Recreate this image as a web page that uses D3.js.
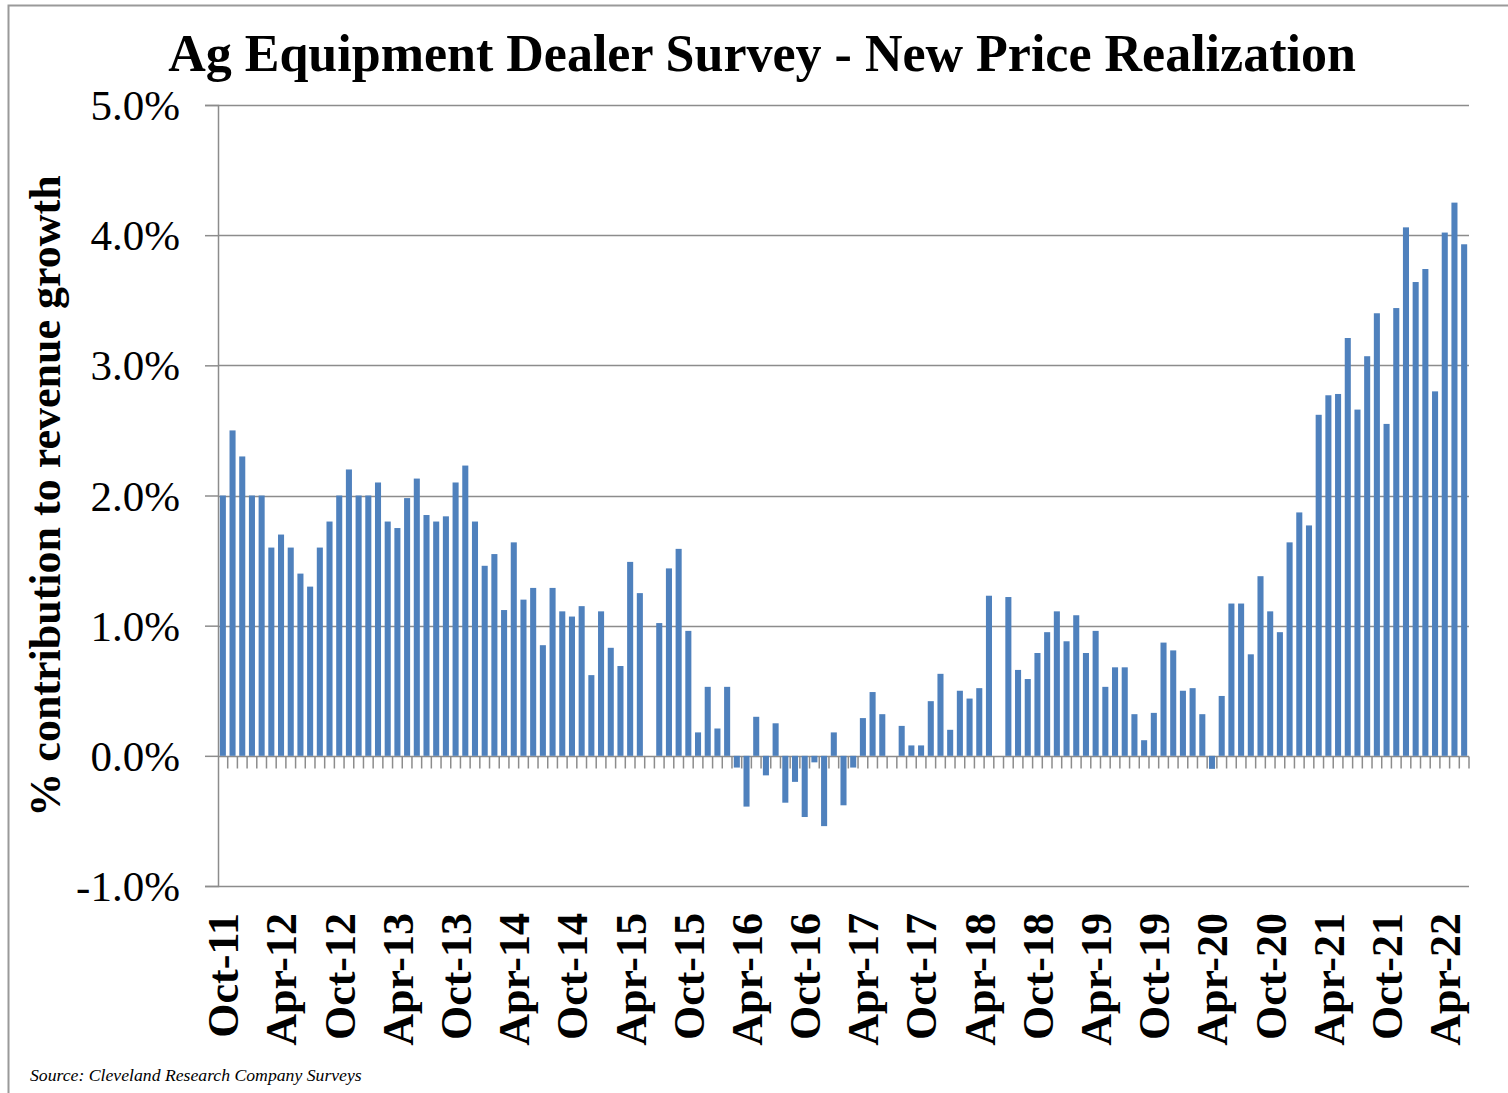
<!DOCTYPE html>
<html>
<head>
<meta charset="utf-8">
<script src="https://cdn.jsdelivr.net/npm/d3@7"></script>
<style>
  html, body { margin: 0; padding: 0; background: #fff; }
  svg { display: block; }
</style>
</head>
<body>
<svg id="chart" width="1508" height="1093"></svg>
<script>
// ---- Data ----
const monthNames = ["Jan","Feb","Mar","Apr","May","Jun","Jul","Aug","Sep","Oct","Nov","Dec"];
// category labels: Oct-11 .. Jun-22 (129 monthly surveys)
const categories = [];
for (let i = 0; i < 129; i++) {
  const m = (9 + i) % 12;
  const y = 11 + Math.floor((9 + i) / 12);
  categories.push(monthNames[m] + "-" + String(y).padStart(2, "0"));
}
// % contribution to revenue growth (null = no survey that month)
const values = [
  2.00, 2.50, 2.30, 2.00, 2.00, 1.60, 1.70, 1.60, 1.40, 1.30,
  1.60, 1.80, 2.00, 2.20, 2.00, 2.00, 2.10, 1.80, 1.75, 1.98,
  2.13, 1.85, 1.80, 1.84, 2.10, 2.23, 1.80, 1.46, 1.55, 1.12,
  1.64, 1.20, 1.29, 0.85, 1.29, 1.11, 1.07, 1.15, 0.62, 1.11,
  0.83, 0.69, 1.49, 1.25, null, 1.02, 1.44, 1.59, 0.96, 0.18,
  0.53, 0.21, 0.53, -0.09, -0.39, 0.30, -0.15, 0.25, -0.36, -0.20,
  -0.47, -0.05, -0.54, 0.18, -0.38, -0.09, 0.29, 0.49, 0.32, null,
  0.23, 0.08, 0.08, 0.42, 0.63, 0.20, 0.50, 0.44, 0.52, 1.23,
  null, 1.22, 0.66, 0.59, 0.79, 0.95, 1.11, 0.88, 1.08, 0.79,
  0.96, 0.53, 0.68, 0.68, 0.32, 0.12, 0.33, 0.87, 0.81, 0.50,
  0.52, 0.32, -0.10, 0.46, 1.17, 1.17, 0.78, 1.38, 1.11, 0.95,
  1.64, 1.87, 1.77, 2.62, 2.77, 2.78, 3.21, 2.66, 3.07, 3.40,
  2.55, 3.44, 4.06, 3.64, 3.74, 2.80, 4.02, 4.25, 3.93
];
const yTicks = [-1, 0, 1, 2, 3, 4, 5];
const xTickLabels = ["Oct-11","Apr-12","Oct-12","Apr-13","Oct-13","Apr-14","Oct-14","Apr-15",
  "Oct-15","Apr-16","Oct-16","Apr-17","Oct-17","Apr-18","Oct-18","Apr-19","Oct-19","Apr-20",
  "Oct-20","Apr-21","Oct-21","Apr-22"];
const titleText = "Ag Equipment Dealer Survey - New Price Realization";
const yTitle = "% contribution to revenue growth";
const sourceText = "Source: Cleveland Research Company Surveys";

// ---- Layout ----
const svg = d3.select("#chart");
const plot = { left: 218, right: 1469, top: 105, bottom: 886 };
const serif = "'Liberation Serif', 'Times New Roman', serif";
const gridColor = "#8c8c8c";
const barColor = "#4F81BD";

// outer chart border (only top/left visible in frame)
svg.append("rect").attr("x", 8.5).attr("y", 5.5).attr("width", 1530).attr("height", 1120)
  .attr("fill", "none").attr("stroke", "#9a9a9a").attr("stroke-width", 2);

const x = d3.scaleBand().domain(categories).range([plot.left, plot.right])
  .paddingInner(0.375).paddingOuter(0.1875);
const step = x.step();
const y = d3.scaleLinear().domain([-1, 5]).range([plot.bottom, plot.top]);

// gridlines + y axis
const yAxis = d3.axisLeft(y).tickValues(yTicks).tickSize(13)
  .tickFormat(d => d.toFixed(1) + "%");
const gy = svg.append("g").attr("transform", `translate(${plot.left},0)`).call(yAxis);
gy.select(".domain").attr("stroke", gridColor).attr("stroke-width", 1.5);
gy.selectAll(".tick line").attr("stroke", gridColor).attr("stroke-width", 1.5);
gy.selectAll(".tick text").attr("font-family", serif).attr("font-size", 43)
  .attr("fill", "#000").attr("x", -38).attr("dy", "0.34em");

svg.append("g").selectAll("line").data(yTicks).join("line")
  .attr("x1", plot.left).attr("x2", plot.right)
  .attr("y1", d => Math.round(y(d)) + 0.5).attr("y2", d => Math.round(y(d)) + 0.5)
  .attr("stroke", gridColor).attr("stroke-width", 1.5);

// bars
svg.append("g").selectAll("rect")
  .data(values.map((v, i) => ({ c: categories[i], v })).filter(d => d.v !== null))
  .join("rect")
  .attr("x", d => x(d.c))
  .attr("width", x.bandwidth())
  .attr("y", d => y(Math.max(0, d.v)))
  .attr("height", d => Math.abs(y(d.v) - y(0)))
  .attr("fill", barColor);

// category axis at zero: tick marks between categories
const y0 = Math.round(y(0)) + 0.5;
const boundaries = categories.slice(1).map(c => x(c) - (step - x.bandwidth()) / 2);
boundaries.push(plot.right);
svg.append("g").selectAll("line").data(boundaries).join("line")
  .attr("x1", d => d).attr("x2", d => d)
  .attr("y1", y0).attr("y2", y0 + 12)
  .attr("stroke", gridColor).attr("stroke-width", 1.5);

// x labels (every 6 months) below plot
svg.append("g").selectAll("text").data(xTickLabels).join("text")
  .attr("transform", d => `translate(${x(d) + x.bandwidth() / 2},${plot.bottom + 27}) rotate(-90)`)
  .attr("text-anchor", "end")
  .attr("dy", "0.35em")
  .attr("font-family", serif).attr("font-weight", "bold").attr("font-size", 44)
  .text(d => d);

// title
svg.append("text").attr("x", 762).attr("y", 71).attr("text-anchor", "middle")
  .attr("font-family", serif).attr("font-weight", "bold").attr("font-size", 52)
  .text(titleText);

// y title
svg.append("text").attr("transform", "translate(45,496) rotate(-90)")
  .attr("text-anchor", "middle").attr("dy", "0.35em")
  .attr("font-family", serif).attr("font-weight", "bold").attr("font-size", 44)
  .text(yTitle);

// source
svg.append("text").attr("x", 30).attr("y", 1081)
  .attr("font-family", serif).attr("font-style", "italic").attr("font-size", 17.7)
  .text(sourceText);
</script>
</body>
</html>
